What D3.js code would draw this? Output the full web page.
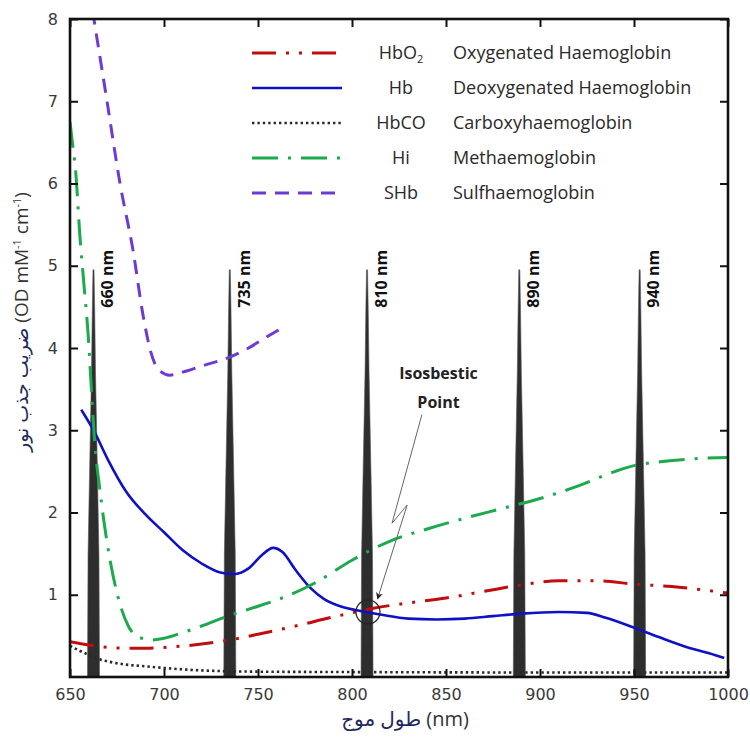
<!DOCTYPE html>
<html>
<head>
<meta charset="utf-8">
<script src="https://cdn.jsdelivr.net/npm/d3@7"></script>
<style>
  body { margin: 0; background: #fff; }
  svg { display: block; }
</style>
</head>
<body>
<div id="graph"></div>
<script>
// ---- data ----
var xTicks = [650, 700, 750, 800, 850, 900, 950, 1000];
var yTicks = [1, 2, 3, 4, 5, 6, 7, 8];

// [wavelength nm, absorption]
var hbo2 = [[650,0.43],[660,0.39],[670,0.36],[680,0.35],[690,0.35],[700,0.36],[720,0.40],[735,0.45],
  [750,0.52],[770,0.62],[790,0.73],[800,0.78],[810,0.83],[830,0.90],[850,0.96],[870,1.04],[890,1.12],
  [910,1.17],[930,1.17],[950,1.13],[970,1.10],[990,1.05],[1000,1.02]];
var hb = [[656,3.25],[663,2.98],[670,2.65],[680,2.25],[690,1.98],[700,1.76],[710,1.54],[720,1.38],
  [730,1.27],[737,1.25],[745,1.32],[752,1.48],[758,1.57],[763,1.52],[770,1.30],[778,1.08],[785,0.95],
  [795,0.85],[805,0.80],[815,0.76],[830,0.71],[845,0.70],[860,0.71],[875,0.74],[890,0.77],[910,0.79],
  [925,0.78],[935,0.72],[950,0.60],[965,0.47],[980,0.35],[990,0.29],[998,0.23]];
var hbco = [[650,0.38],[655,0.32],[660,0.27],[665,0.22],[670,0.19],[680,0.15],[690,0.13],[700,0.11],
  [720,0.08],[750,0.065],[800,0.06],[900,0.055],[1000,0.055]];
var hi = [[650,6.75],[651,6.55],[653,6.15],[655.3,5.35],[657.5,4.75],[659.6,4.18],[661.2,3.57],
  [663.3,2.8],[665.5,2.35],[668,1.9],[671.3,1.42],[675,1.02],[681,0.62],[687,0.48],[694,0.45],
  [700,0.47],[710,0.54],[720,0.62],[735,0.75],[750,0.86],[765,0.98],[780,1.14],[800,1.42],[820,1.65],
  [840,1.80],[860,1.93],[880,2.05],[900,2.17],[920,2.32],[940,2.50],[950,2.57],[965,2.62],[980,2.65],
  [1000,2.67]];
var shb = [[662,8.1],[669.7,7.0],[676.6,6.0],[683.5,5.19],[689,4.38],[693,3.95],[697,3.74],[703,3.67],
  [712,3.72],[720,3.78],[735,3.89],[745,4.0],[755,4.14],[764,4.26]];

// LED emission peaks
var peakCenters = [662.5, 735, 808, 889, 953];
var peakLabels = ["660 nm", "735 nm", "810 nm", "890 nm", "940 nm"];
var peakHeight = 4.95;
// half width (nm) vs fraction of peak height
var peakProfile = [[3.2,0],[3.1,0.1],[2.9,0.3],[2.1,0.5],[1.06,0.75],[0.64,0.9],[0.27,1]];

var seriesKeys = ["HbO2", "Hb", "HbCO", "Hi", "SHb"];
var seriesNames = ["Oxygenated Haemoglobin", "Deoxygenated Haemoglobin", "Carboxyhaemoglobin",
  "Methaemoglobin", "Sulfhaemoglobin"];
var seriesData = [hbo2, hb, hbco, hi, shb];
var seriesColors = ["#c00d0d", "#1010c4", "#2a2a2a", "#1caa4c", "#6c3cd2"];
var seriesDash = ["24,10,3,10,3,10", null, "2.4,3", "26,10,3,10", "14,9"];
var seriesWidth = [3, 2.6, 2.6, 3, 3];

// isosbestic annotation
var isoPoint = [808.5, 0.79];
var isoArrow = [[837.2,3.19],[821.3,1.87],[829.3,2.09],[813.6,0.95]];

// ---- layout ----
var width = 750, height = 740;
var margin = { top: 19, right: 22, bottom: 63, left: 70 };
var chartWidth = width - margin.left - margin.right;
var chartHeight = height - margin.top - margin.bottom;

var xScale = d3.scaleLinear().domain([650, 1000]).range([margin.left, margin.left + chartWidth]);
var yScale = d3.scaleLinear().domain([0, 8]).range([margin.top + chartHeight, margin.top]);

var svg = d3.select("#graph").append("svg")
  .attr("width", width)
  .attr("height", height);

svg.append("defs").append("clipPath").attr("id", "plotClip")
  .append("rect")
    .attr("x", margin.left).attr("y", margin.top)
    .attr("width", chartWidth).attr("height", chartHeight);

var plot = svg.append("g").attr("clip-path", "url(#plotClip)");

// peaks
var peakLine = d3.line()
  .x(function(d) { return xScale(d[0]); })
  .y(function(d) { return yScale(d[1]); });

peakCenters.forEach(function(c, i) {
  var left = peakProfile.map(function(p) { return [c - p[0], p[1] * peakHeight]; });
  var right = peakProfile.slice().reverse().map(function(p) { return [c + p[0], p[1] * peakHeight]; });
  plot.append("path")
    .attr("d", peakLine(left.concat(right)) + "Z")
    .style("fill", "#2e2e2e")
    .style("stroke", "#555")
    .style("stroke-width", 0.6);

  svg.append("text")
    .attr("transform", "translate(" + (xScale(c) + 14) + "," + (yScale(peakHeight) - 20) + ") rotate(-90)")
    .attr("text-anchor", "end")
    .attr("dy", "0.36em")
    .style("font-family", "'Open Sans', Lato, sans-serif")
    .style("font-weight", "bold")
    .style("font-size", "16px")
    .style("fill", "#111")
    .text(peakLabels[i]);
});

// curves
var curveLine = d3.line()
  .curve(d3.curveMonotoneX)
  .x(function(d) { return xScale(d[0]); })
  .y(function(d) { return yScale(d[1]); });

seriesData.forEach(function(data, i) {
  plot.append("path")
    .datum(data)
    .attr("d", curveLine)
    .style("fill", "none")
    .style("stroke", seriesColors[i])
    .style("stroke-width", seriesWidth[i])
    .style("stroke-dasharray", seriesDash[i]);
});

// isosbestic circle + arrow
svg.append("circle")
  .attr("cx", xScale(isoPoint[0]))
  .attr("cy", yScale(isoPoint[1]))
  .attr("r", 12)
  .style("fill", "none")
  .style("stroke", "#222")
  .style("stroke-width", 1.2);

svg.append("defs").append("marker")
  .attr("id", "arrowHead")
  .attr("viewBox", "0 0 10 10")
  .attr("refX", 9).attr("refY", 5)
  .attr("markerWidth", 7).attr("markerHeight", 7)
  .attr("orient", "auto")
  .append("path")
    .attr("d", "M0,0 L10,5 L0,10 L3,5 Z")
    .style("fill", "#222");

svg.append("path")
  .attr("d", peakLine(isoArrow))
  .style("fill", "none")
  .style("stroke", "#666")
  .style("stroke-width", 1)
  .attr("marker-end", "url(#arrowHead)");

var isoText = svg.append("text")
  .attr("text-anchor", "middle")
  .style("font-family", "'Open Sans', Lato, sans-serif")
  .style("font-weight", "bold")
  .style("font-size", "16px")
  .style("fill", "#222");
isoText.append("tspan").attr("x", xScale(846)).attr("y", yScale(3.62)).text("Isosbestic");
isoText.append("tspan").attr("x", xScale(846)).attr("y", yScale(3.27)).text("Point");

// axes
var tickFont = "'DejaVu Sans', Verdana, sans-serif";

var xAxis = svg.append("g")
  .attr("transform", "translate(0," + (margin.top + chartHeight) + ")")
  .call(d3.axisBottom(xScale).tickValues(xTicks).tickSize(-8).tickPadding(12).tickFormat(d3.format("d")));
var xAxisTop = svg.append("g")
  .attr("transform", "translate(0," + margin.top + ")")
  .call(d3.axisTop(xScale).tickValues(xTicks).tickSize(-8).tickFormat(""));
var yAxis = svg.append("g")
  .attr("transform", "translate(" + margin.left + ",0)")
  .call(d3.axisLeft(yScale).tickValues(yTicks).tickSize(-8).tickPadding(12).tickFormat(d3.format("d")));
var yAxisRight = svg.append("g")
  .attr("transform", "translate(" + (margin.left + chartWidth) + ",0)")
  .call(d3.axisRight(yScale).tickValues(yTicks).tickSize(-8).tickFormat(""));

[xAxis, xAxisTop, yAxis, yAxisRight].forEach(function(a) {
  a.select(".domain").remove();
  a.selectAll(".tick line").style("stroke", "#111").style("stroke-width", 2);
  a.selectAll(".tick text")
    .style("font-family", tickFont)
    .style("font-size", "16px")
    .style("fill", "#3a3a3a");
});

svg.append("rect")
  .attr("x", margin.left).attr("y", margin.top)
  .attr("width", chartWidth).attr("height", chartHeight)
  .style("fill", "none")
  .style("stroke", "#111")
  .style("stroke-width", 2.6);

// axis titles
var titleFont = "'Open Sans', 'DejaVu Sans', sans-serif";

var xTitle = svg.append("text")
  .attr("x", margin.left + chartWidth / 2 + 6)
  .attr("y", 726)
  .attr("text-anchor", "middle")
  .style("font-family", titleFont)
  .style("font-size", "20px")
  .style("fill", "#333");
xTitle.append("tspan").style("fill", "#1f2a5c").text("طول موج");
xTitle.append("tspan").text(" (nm)");

var yTitle = svg.append("text")
  .attr("transform", "translate(28," + 322 + ") rotate(-90)")
  .attr("text-anchor", "middle")
  .style("font-family", titleFont)
  .style("font-size", "19px")
  .style("fill", "#333");
yTitle.append("tspan").style("fill", "#1f2a5c").text("ضریب جذب نور");
yTitle.append("tspan").text(" (OD mM");
yTitle.append("tspan").attr("dy", -7).style("font-size", "11px").text("-1");
yTitle.append("tspan").attr("dy", 7).text(" cm");
yTitle.append("tspan").attr("dy", -7).style("font-size", "11px").text("-1");
yTitle.append("tspan").attr("dy", 7).text(")");

// legend
var legend = svg.append("g");
seriesKeys.forEach(function(key, i) {
  var ly = 53 + i * 35;
  legend.append("line")
    .attr("x1", 252).attr("x2", 342)
    .attr("y1", ly).attr("y2", ly)
    .style("stroke", seriesColors[i])
    .style("stroke-width", seriesWidth[i])
    .style("stroke-dasharray", seriesDash[i]);

  var abbr = legend.append("text")
    .attr("x", 401).attr("y", ly)
    .attr("dy", "0.35em")
    .attr("text-anchor", "middle")
    .style("font-family", titleFont)
    .style("font-size", "18px")
    .style("fill", "#2a2a2a");
  if (key == "HbO2") {
    abbr.append("tspan").text("HbO");
    abbr.append("tspan").attr("dy", 4).style("font-size", "11px").text("2");
  } else {
    abbr.text(key);
  }

  legend.append("text")
    .attr("x", 453).attr("y", ly)
    .attr("dy", "0.35em")
    .style("font-family", titleFont)
    .style("font-size", "18px")
    .style("fill", "#2a2a2a")
    .text(seriesNames[i]);
});
</script>
</body>
</html>
